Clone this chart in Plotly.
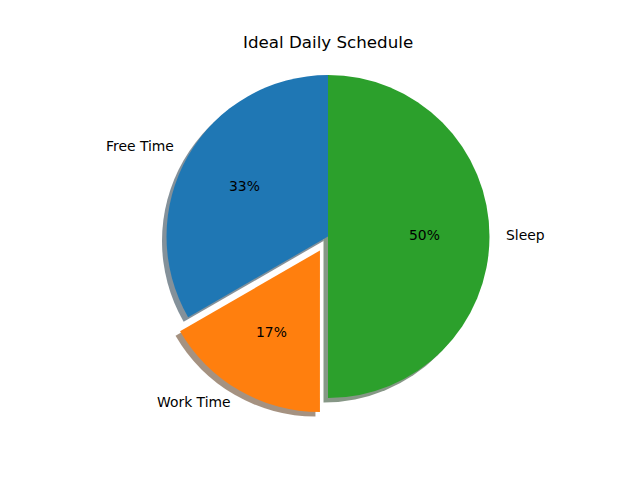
import math
import plotly.graph_objects as go

# ---- data ----
labels = ["Free Time", "Work Time", "Sleep"]
hours = [8, 4, 12]
explode = [0, 0.1, 0]
colors = ["#1f77b4", "#ff7f0e", "#2ca02c"]
title = "Ideal Daily Schedule"

# ---- layout constants (pixels) ----
W, H = 640, 480
cx, cy, r = 328.0, 236.5, 161.5
shadow_off = 4.5

total = sum(hours)
# plotly counterclockwise: first slice ends at the rotation angle, so shift it
rot = -360 * hours[0] / total

maxpull = max(explode)
half_w = r * (1 + maxpull) / W
half_h = r * (1 + maxpull) / H
xc, yc = cx / W, 1 - cy / H

def shadow_color(hexc):
    hexc = hexc.lstrip("#")
    rr, gg, bb = (int(hexc[i:i + 2], 16) for i in (0, 2, 4))
    return "rgba(%d,%d,%d,0.5)" % (rr * 0.3, gg * 0.3, bb * 0.3)

fig = go.Figure()

# shadow
sx, sy = -shadow_off / W, -shadow_off / H
fig.add_trace(go.Pie(
    labels=labels, values=hours, pull=explode, sort=False,
    direction="counterclockwise", rotation=rot,
    marker=dict(colors=[shadow_color(c) for c in colors], line=dict(width=0)),
    textinfo="none", hoverinfo="skip", showlegend=False,
    domain=dict(x=[xc - half_w + sx, xc + half_w + sx], y=[yc - half_h + sy, yc + half_h + sy]),
))

# main pie
fig.add_trace(go.Pie(
    labels=labels, values=hours, pull=explode, sort=False,
    direction="counterclockwise", rotation=rot,
    marker=dict(colors=colors, line=dict(width=0)),
    textinfo="none", showlegend=False,
    domain=dict(x=[xc - half_w, xc + half_w], y=[yc - half_h, yc + half_h]),
))

# labels and percentages (positions from the data angles)
cum = 0
annotations = []
for lab, v, ex in zip(labels, hours, explode):
    a1 = 90 + 360 * cum / total
    cum += v
    a2 = 90 + 360 * cum / total
    mid = math.radians((a1 + a2) / 2)
    c, s = math.cos(mid), math.sin(mid)
    f = 1.1 + ex
    lx = cx + f * r * c
    ly = cy - f * r * s
    left = c < -1e-9
    annotations.append(dict(
        x=lx / W, y=1 - ly / H, xref="paper", yref="paper", text=lab,
        showarrow=False, xanchor="right" if left else "left", yanchor="middle",
        xshift=2 if left else -2, yshift=2,
        font=dict(family="DejaVu Sans", size=13.9, color="black"),
    ))
    f = 0.6 + ex
    px_ = cx + f * r * c
    py_ = cy - f * r * s
    annotations.append(dict(
        x=px_ / W, y=1 - py_ / H, xref="paper", yref="paper",
        text="%d%%" % round(100 * v / total),
        showarrow=False, xanchor="center", yanchor="middle", yshift=2,
        font=dict(family="DejaVu Sans", size=13.9, color="black"),
    ))

annotations.append(dict(
    x=328 / W, y=1 - 42 / H, xref="paper", yref="paper", text=title,
    showarrow=False, xanchor="center", yanchor="middle",
    font=dict(family="DejaVu Sans", size=16.7, color="black"),
))

fig.update_layout(
    width=W, height=H, margin=dict(l=0, r=0, t=0, b=0),
    paper_bgcolor="white", plot_bgcolor="white",
    annotations=annotations,
)

fig.write_html("out.html")
